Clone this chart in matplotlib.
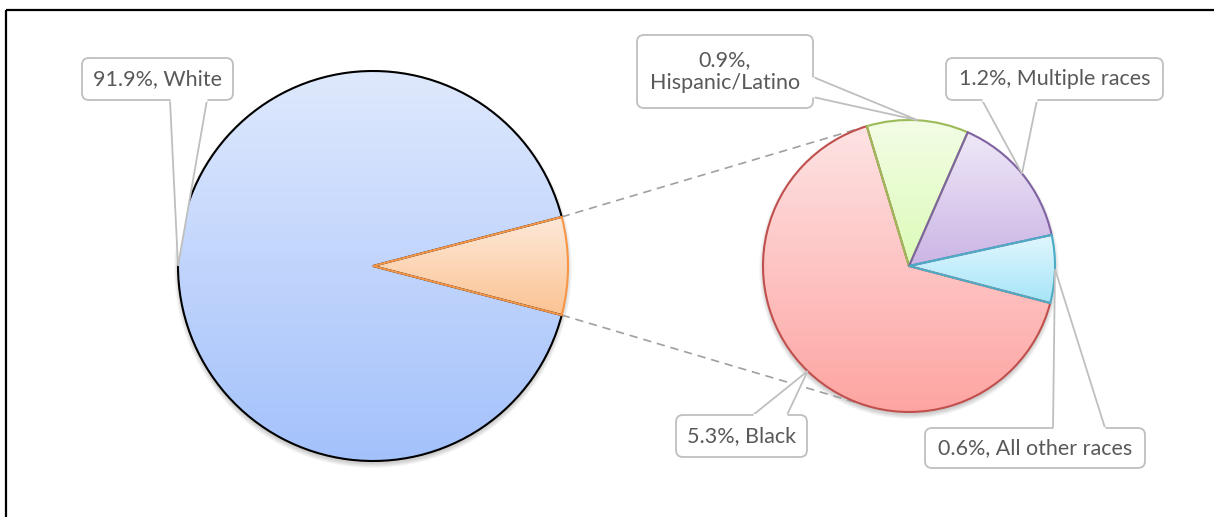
import numpy as np
import matplotlib.pyplot as plt
from matplotlib.patches import Circle, FancyBboxPatch, Polygon
from matplotlib.colors import to_rgb

# main pie: share of population by race
main_names = ["White", "Other"]
main_values = [91.9, 8.1]
# the "Other" slice broken down in the second pie
sub_names = ["Hispanic/Latino", "Multiple races", "All other races", "Black"]
sub_values = [0.9, 1.2, 0.6, 5.3]

W, H = 1214, 517
fig = plt.figure(figsize=(W / 100, H / 100), dpi=100)
ax = fig.add_axes([0, 0, 1, 1])

main_c, main_r = (373, 251), 195
sub_c, sub_r = (909, 251), 146

main_top = ["#dfe9fd", "#fde9d9"]
main_bot = ["#a3c1fb", "#fbc393"]
main_edge = ["black", "#f79646"]
sub_top = ["#f3fde6", "#efe8f8", "#e2f7fe", "#fde3e4"]
sub_bot = ["#dcfbb8", "#cbb5e5", "#a6e5f8", "#fea4a1"]
sub_edge = ["#9bbb59", "#8064a2", "#4bacc6", "#c0504d"]
# which outline wins on a shared radius
sub_z = [4.1, 4.2, 4.3, 4.0]

GRAY = "#bfbfbf"
TXT = "#595959"
FONT = "Lato"


def shadow(c, r):
    for i in range(8):
        ax.add_patch(Circle((c[0], c[1] - 3), r + 4 - i * 0.6, color="black",
                            alpha=0.025, lw=0, zorder=1))


def grad_fill(wedges, tops, bots, edges, zs):
    f = np.linspace(0, 1, 256)[:, None]
    for w, t, b, e, z in zip(wedges, tops, bots, edges, zs):
        v = w.get_path().vertices
        img = (1 - f) * np.array(to_rgb(t)) + f * np.array(to_rgb(b))
        im = ax.imshow(img[:, None, :], aspect="auto", interpolation="bilinear",
                       extent=(v[:, 0].min(), v[:, 0].max(), v[:, 1].min(), v[:, 1].max()),
                       zorder=3)
        im.set_clip_path(w)
        w.set_facecolor("none")
        w.set_edgecolor(e)
        w.set_zorder(z)


shadow(main_c, main_r)
shadow(sub_c, sub_r)

# Other slice centred on the right side
mw, _ = ax.pie(main_values, startangle=main_values[1] * 3.6 / 2, counterclock=True,
               center=main_c, radius=main_r, frame=True, wedgeprops=dict(linewidth=1.5))
sw, _ = ax.pie(sub_values, startangle=106.8, counterclock=False,
               center=sub_c, radius=sub_r, frame=True, wedgeprops=dict(linewidth=1.5))
grad_fill(mw, main_top, main_bot, main_edge, [4.0, 4.1])
grad_fill(sw, sub_top, sub_bot, sub_edge, sub_z)


def on_circle(c, r, deg):
    a = np.deg2rad(deg)
    return np.array([c[0] + r * np.cos(a), c[1] + r * np.sin(a)])


def tangent(p, c, r, sign):
    d = p - np.array(c)
    phi = np.arctan2(d[1], d[0])
    a = np.arccos(r / np.hypot(*d))
    ang = phi + sign * a
    return np.array([c[0] + r * np.cos(ang), c[1] + r * np.sin(ang)])


# dashed connectors from the Other slice to the second pie
other = mw[1]
for deg, sign in [(other.theta2, -1), (other.theta1, 1)]:
    p = on_circle(main_c, main_r, deg)
    q = tangent(p, sub_c, sub_r, sign)
    ax.plot([p[0], q[0]], [p[1], q[1]], color="#a0a0a0", lw=1.2, dashes=(5, 3.5), zorder=2)


def mid(w):
    return on_circle(w.center, w.r, (w.theta1 + w.theta2) / 2)


def callout(text, box, base, tip):
    # box and base given in image pixels (y down)
    x0, x1, y0, y1 = box
    y0, y1 = H - y1, H - y0
    b1 = (base[0][0], H - base[0][1])
    b2 = (base[1][0], H - base[1][1])
    ax.add_patch(Polygon([b1, tuple(tip), b2], closed=False, fc="white", ec=GRAY,
                         lw=1.3, zorder=6))
    ax.add_patch(FancyBboxPatch((x0, y0), x1 - x0, y1 - y0,
                                boxstyle="round,pad=0,rounding_size=7",
                                fc="white", ec=GRAY, lw=1.3, zorder=7))
    ax.plot([b1[0], b2[0]], [b1[1], b2[1]], color="white", lw=2.2,
            solid_capstyle="butt", zorder=8)
    ax.text((x0 + x1) / 2, (y0 + y1) / 2, text, ha="center", va="center",
            fontsize=15.5, color=TXT, family=FONT, zorder=9, linespacing=1.2)


lab = lambda v, n: f"{v:.1f}%, {n}"
callout(lab(main_values[0], main_names[0]), (82, 233, 58, 100),
        [(170, 100), (207, 100)], on_circle(main_c, main_r, 180))
callout(f"{sub_values[0]:.1f}%,\n{sub_names[0]}", (637, 813, 35, 108),
        [(813, 77), (813, 97)], mid(sw[0]))
callout(lab(sub_values[1], sub_names[1]), (946, 1163, 58, 100),
        [(982, 100), (1037, 100)], mid(sw[1]))
callout(lab(sub_values[2], sub_names[2]), (925, 1145, 428, 468),
        [(1053, 428), (1105, 428)], mid(sw[2]))
callout(lab(sub_values[3], sub_names[3]), (676, 807, 415, 457),
        [(753, 415), (787, 415)], mid(sw[3]))

# chart frame (only top and left edges fall inside the picture)
ax.plot([6, W], [H - 10, H - 10], color="black", lw=1.6, zorder=10, solid_capstyle="butt")
ax.plot([6, 6], [0, H - 10], color="black", lw=1.6, zorder=10, solid_capstyle="butt")

ax.set_xlim(0, W)
ax.set_ylim(0, H)
ax.set_aspect("auto")
ax.axis("off")
fig.savefig("out.png", dpi=100)
